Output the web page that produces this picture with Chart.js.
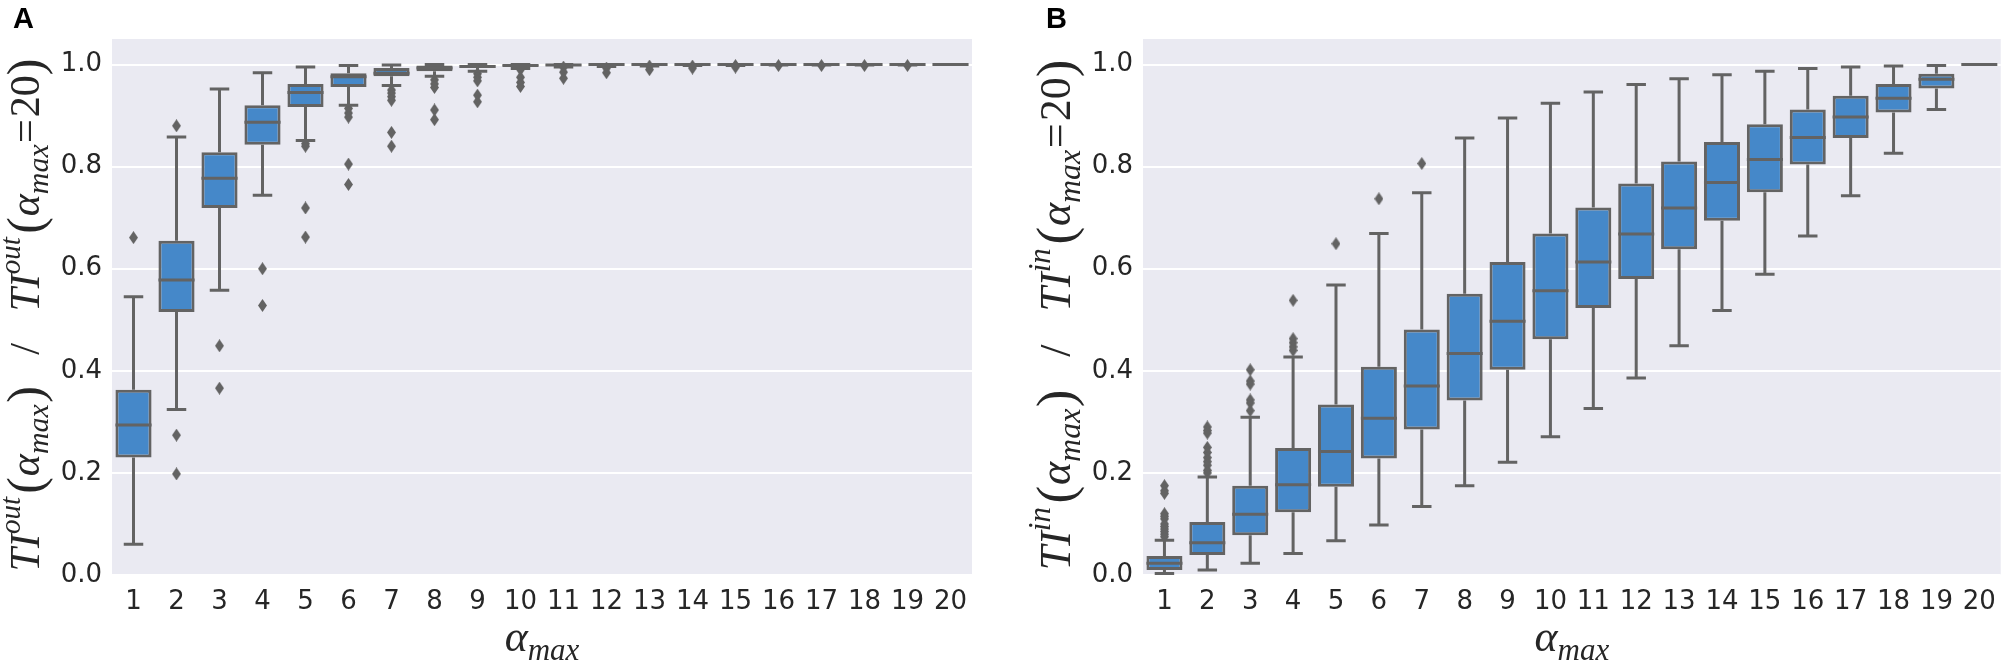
<!DOCTYPE html>
<html>
<head>
<meta charset="utf-8">
<script src="https://cdn.jsdelivr.net/npm/chart.js@4.4.1/dist/chart.umd.min.js"></script>
<style>
  body { margin: 0; background: #fff; }
  canvas { position: absolute; top: 0; }
  #chartA { left: 0; }
  #chartB { left: 1004px; }
</style>
</head>
<body>
<canvas id="chartA" width="1004" height="666"></canvas>
<canvas id="chartB" width="1004" height="666"></canvas>
<script>
const catLabels = ['1', '2', '3', '4', '5', '6', '7', '8', '9', '10',
  '11', '12', '13', '14', '15', '16', '17', '18', '19', '20'];
const yTicks = [0, 0.2, 0.4, 0.6, 0.8, 1.0];

// panel A : TI out
const outLow = [0.060, 0.324, 0.558, 0.744, 0.851, 0.920, 0.959, 0.977, 0.987, 0.992,
  0.995, 0.996, 0.997, 0.998, 0.998, 0.999, 0.999, 0.999, 0.999, 1.0];
const outQ1 = [0.230, 0.515, 0.719, 0.843, 0.917, 0.956, 0.977, 0.987, 0.993, 0.997,
  0.998, 0.999, 0.999, 0.999, 1.0, 1.0, 1.0, 1.0, 1.0, 1.0];
const outMed = [0.294, 0.578, 0.777, 0.887, 0.945, 0.976, 0.983, 0.993, 0.996, 0.998,
  0.999, 1.0, 1.0, 1.0, 1.0, 1.0, 1.0, 1.0, 1.0, 1.0];
const outQ3 = [0.363, 0.655, 0.828, 0.920, 0.962, 0.983, 0.993, 0.998, 0.999, 1.0,
  1.0, 1.0, 1.0, 1.0, 1.0, 1.0, 1.0, 1.0, 1.0, 1.0];
const outHigh = [0.545, 0.858, 0.952, 0.984, 0.995, 0.998, 0.999, 1.0, 1.0, 1.0,
  1.0, 1.0, 1.0, 1.0, 1.0, 1.0, 1.0, 1.0, 1.0, 1.0];
const outFliers = [
  [0.661],
  [0.880, 0.274, 0.198],
  [0.449, 0.366],
  [0.600, 0.528],
  [0.845, 0.840, 0.719, 0.662],
  [0.914, 0.905, 0.897, 0.805, 0.765],
  [0.950, 0.944, 0.937, 0.930, 0.867, 0.840],
  [0.970, 0.962, 0.955, 0.911, 0.892],
  [0.982, 0.975, 0.968, 0.940, 0.927],
  [0.990, 0.975, 0.965, 0.957],
  [0.995, 0.985, 0.973],
  [0.993, 0.984],
  [0.997, 0.990],
  [0.997, 0.993],
  [0.998, 0.995],
  [0.998],
  [0.998],
  [0.998],
  [0.998],
  []
];

// panel B : TI in
const inLow = [0.003, 0.010, 0.023, 0.042, 0.067, 0.098, 0.134, 0.175, 0.221, 0.271,
  0.326, 0.386, 0.449, 0.518, 0.589, 0.664, 0.743, 0.826, 0.912, 1.0];
const inQ1 = [0.010, 0.039, 0.078, 0.123, 0.173, 0.228, 0.285, 0.342, 0.402, 0.462,
  0.523, 0.580, 0.638, 0.694, 0.750, 0.804, 0.856, 0.906, 0.953, 1.0];
const inMed = [0.023, 0.063, 0.119, 0.177, 0.242, 0.307, 0.370, 0.434, 0.497, 0.557,
  0.613, 0.668, 0.719, 0.769, 0.814, 0.857, 0.897, 0.934, 0.971, 1.0];
const inQ3 = [0.037, 0.104, 0.175, 0.249, 0.334, 0.408, 0.481, 0.551, 0.613, 0.669,
  0.720, 0.767, 0.810, 0.848, 0.883, 0.912, 0.939, 0.962, 0.982, 1.0];
const inHigh = [0.068, 0.192, 0.309, 0.427, 0.568, 0.669, 0.749, 0.856, 0.895, 0.924,
  0.946, 0.961, 0.972, 0.980, 0.987, 0.992, 0.995, 0.997, 0.998, 1.0];
const inFliers = [
  [0.175, 0.165, 0.160, 0.120, 0.115, 0.110, 0.100, 0.095, 0.090, 0.085, 0.080, 0.075],
  [0.290, 0.283, 0.278, 0.250, 0.240, 0.230, 0.222, 0.215, 0.205, 0.200],
  [0.402, 0.380, 0.374, 0.343, 0.337, 0.322],
  [0.538, 0.463, 0.455, 0.447, 0.440],
  [0.649],
  [0.737],
  [0.806],
  [], [], [], [], [], [], [], [], [], [], [], [], []
];

const boxBlue = '#4588c9';
const edgeGray = '#636363';
const textColor = '#262626';

function diamond(w, h) {
  const c = document.createElement('canvas');
  c.width = w;
  c.height = h;
  const g = c.getContext('2d');
  g.fillStyle = edgeGray;
  g.beginPath();
  g.moveTo(w / 2, 0);
  g.lineTo(w, h / 2);
  g.lineTo(w / 2, h);
  g.lineTo(0, h / 2);
  g.closePath();
  g.fill();
  return c;
}
const flierMark = diamond(9, 13);

// draws the rotated math-style label, parts laid out one after another
function drawParts(ctx, parts, size) {
  let x = 0;
  for (const p of parts) {
    ctx.font = (p.it ? 'italic ' : '') + Math.round(size * p.s) + 'px "Liberation Serif"';
    ctx.fillText(p.t, x, size * (p.dy || 0));
    x += ctx.measureText(p.t).width + size * (p.gap || 0);
  }
  return x;
}
function partsWidth(ctx, parts, size) {
  let x = 0;
  for (const p of parts) {
    ctx.font = (p.it ? 'italic ' : '') + Math.round(size * p.s) + 'px "Liberation Serif"';
    x += ctx.measureText(p.t).width + size * (p.gap || 0);
  }
  return x;
}

function yTitleParts(sup) {
  const half = (tail) => [
    { t: 'TI', it: true, s: 1 },
    { t: sup, it: true, s: 0.7, dy: -0.45, gap: 0.08 },
    { t: '(', s: 1.2, dy: 0.06, gap: 0.02 },
    { t: 'α', it: true, s: 1 },
    { t: 'max', it: true, s: 0.72, dy: 0.22, gap: 0.03 },
    ...tail,
    { t: ')', s: 1.2, dy: 0.06 }
  ];
  return [
    ...half([]),
    { t: '   /   ', s: 1 },
    ...half([{ t: '=', s: 1, gap: 0.05 }, { t: '20', s: 1 }])
  ];
}

function makeChart(id, opts) {
  const boxParts = {
    id: 'boxParts',
    beforeDraw(chart) {
      const a = chart.chartArea;
      const ctx = chart.ctx;
      ctx.save();
      ctx.fillStyle = '#eaeaf2';
      ctx.fillRect(a.left, a.top, a.right - a.left, a.bottom - a.top);
      ctx.restore();
    },
    afterDatasetsDraw(chart) {
      const ctx = chart.ctx;
      const y = chart.scales.y;
      const meta = chart.getDatasetMeta(0);
      ctx.save();
      ctx.strokeStyle = edgeGray;
      ctx.lineWidth = 3;
      meta.data.forEach((bar, i) => {
        const w = bar.width;
        const cx = bar.x;
        const yq1 = y.getPixelForValue(opts.q1[i]);
        const yq3 = y.getPixelForValue(opts.q3[i]);
        const ylo = y.getPixelForValue(opts.low[i]);
        const yhi = y.getPixelForValue(opts.high[i]);
        const ymed = y.getPixelForValue(opts.med[i]);
        ctx.beginPath();
        ctx.moveTo(cx, yq3);
        ctx.lineTo(cx, yhi);
        ctx.moveTo(cx - w * 0.27, yhi);
        ctx.lineTo(cx + w * 0.27, yhi);
        ctx.moveTo(cx, yq1);
        ctx.lineTo(cx, ylo);
        ctx.moveTo(cx - w * 0.27, ylo);
        ctx.lineTo(cx + w * 0.27, ylo);
        ctx.moveTo(cx - w / 2, ymed);
        ctx.lineTo(cx + w / 2, ymed);
        ctx.stroke();
      });
      ctx.restore();
    },
    afterDraw(chart) {
      const ctx = chart.ctx;
      const a = chart.chartArea;
      ctx.save();
      ctx.fillStyle = '#000';
      ctx.textBaseline = 'alphabetic';
      ctx.font = 'bold 29px "Liberation Sans"';
      ctx.fillText(opts.letter, opts.letterX, 28);

      ctx.fillStyle = textColor;
      // x title
      const xParts = [{ t: 'α', it: true, s: 1 }, { t: 'max', it: true, s: 0.7, dy: 0.2 }];
      const xs = 44;
      const xw = partsWidth(ctx, xParts, xs);
      ctx.save();
      ctx.translate((a.left + a.right) / 2 - xw / 2, 651);
      drawParts(ctx, xParts, xs);
      ctx.restore();

      // y title, sized to the span it covers in the original
      const yParts = yTitleParts(opts.sup);
      const w100 = partsWidth(ctx, yParts, 100);
      const size = 100 * 512 / w100;
      const yw = partsWidth(ctx, yParts, size);
      ctx.save();
      ctx.translate(opts.titleX, 315);
      ctx.rotate(-Math.PI / 2);
      ctx.translate(-yw / 2, 0);
      drawParts(ctx, yParts, size);
      ctx.restore();
      ctx.restore();
    }
  };

  const points = opts.fliers.flatMap((vals, i) => vals.map(v => ({ x: catLabels[i], y: v })));

  return new Chart(document.getElementById(id), {
    type: 'bar',
    data: {
      labels: catLabels,
      datasets: [
        {
          type: 'bar',
          data: opts.q1.map((v, i) => [v, opts.q3[i]]),
          backgroundColor: boxBlue,
          borderColor: edgeGray,
          borderWidth: 3,
          borderSkipped: false,
          barPercentage: 0.84,
          categoryPercentage: 1.0
        },
        {
          type: 'scatter',
          data: points,
          pointStyle: flierMark,
          pointRadius: 5,
          backgroundColor: edgeGray,
          borderColor: edgeGray
        }
      ]
    },
    options: {
      responsive: false,
      animation: false,
      devicePixelRatio: 1,
      layout: { padding: { left: 0, right: opts.padRight, top: 39, bottom: 0 } },
      plugins: { legend: { display: false }, tooltip: { enabled: false } },
      scales: {
        x: {
          type: 'category',
          offset: true,
          grid: { display: false, drawTicks: false },
          border: { display: false },
          ticks: {
            color: textColor,
            font: { family: 'DejaVu Sans', size: 26 },
            padding: 12,
            maxRotation: 0,
            autoSkip: false
          },
          afterFit(s) { s.height = 91; }
        },
        y: {
          min: 0,
          max: 1.05,
          grid: { color: '#ffffff', lineWidth: 2, drawTicks: false },
          border: { display: false },
          afterBuildTicks(s) { s.ticks = yTicks.map(v => ({ value: v })); },
          ticks: {
            color: textColor,
            font: { family: 'DejaVu Sans', size: 26 },
            padding: 10,
            callback: v => v.toFixed(1)
          },
          afterFit(s) { s.width = opts.axisWidth; }
        }
      }
    },
    plugins: [boxParts]
  });
}

makeChart('chartA', {
  low: outLow, q1: outQ1, med: outMed, q3: outQ3, high: outHigh, fliers: outFliers,
  sup: 'out', letter: 'A', letterX: 13, titleX: 39, axisWidth: 112, padRight: 32
});
makeChart('chartB', {
  low: inLow, q1: inQ1, med: inMed, q3: inQ3, high: inHigh, fliers: inFliers,
  sup: 'in', letter: 'B', letterX: 42, titleX: 66, axisWidth: 139, padRight: 4
});
</script>
</body>
</html>
